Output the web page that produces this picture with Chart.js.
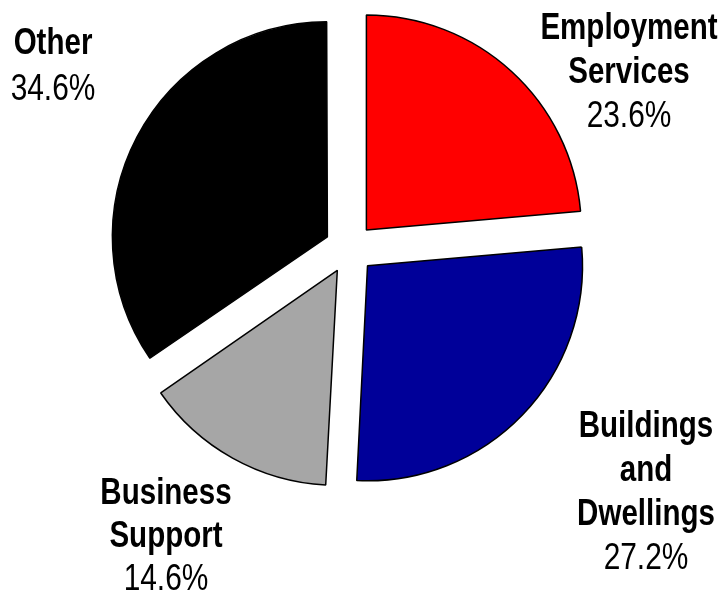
<!DOCTYPE html>
<html>
<head>
<meta charset="utf-8">
<script src="https://cdn.jsdelivr.net/npm/chart.js@4/dist/chart.umd.min.js"></script>
<style>
  html, body { margin: 0; padding: 0; background: #ffffff; }
  #wrap { width: 727px; height: 594px; position: relative; }
</style>
</head>
<body>
<div id="wrap"><canvas id="c" width="727" height="594"></canvas></div>
<script>
// ---- data ----
const categories = ["Employment Services", "Buildings and Dwellings", "Business Support", "Other"];
const categoryLines = [["Employment", "Services"], ["Buildings", "and", "Dwellings"], ["Business", "Support"], ["Other"]];
const shares = [23.6, 27.2, 14.6, 34.6];
const sliceColors = ["#FF0000", "#000099", "#A6A6A6", "#000000"];

// label placement (centre x, first baseline y, line height)
const labelAnchors = [
  { x: 629, y: 39, lh: 44 },
  { x: 646, y: 437, lh: 44 },
  { x: 166, y: 504, lh: 43 },
  { x: 53, y: 54, lh: 46 }
];

const FONT = '"Liberation Sans", Arial, sans-serif';
const OFFSET = 100;

// keep exploded slices at the same radius (Chart.js grows narrow slices when offset)
const radiusFix = {
  id: 'radiusFix',
  beforeDatasetsDraw(chart) {
    const meta = chart.getDatasetMeta(0);
    const R = meta.controller.outerRadius;
    meta.data.forEach(arc => {
      const off = (arc.options.offset || 0) / 4;
      const fix = 1 - Math.sin(Math.min(Math.PI, arc.circumference || 0));
      arc.outerRadius = R - off * fix;
    });
  }
};

function narrowText(ctx, text, x, y, sx) {
  ctx.save();
  ctx.translate(x, y);
  ctx.scale(sx, 1);
  ctx.fillText(text, 0, 0);
  ctx.restore();
}

const sliceLabels = {
  id: 'sliceLabels',
  afterDatasetsDraw(chart) {
    const ctx = chart.ctx;
    ctx.save();
    ctx.fillStyle = '#000';
    ctx.textAlign = 'center';
    ctx.textBaseline = 'alphabetic';
    chart.data.labels.forEach((lab, i) => {
      const a = labelAnchors[i];
      const lines = categoryLines[i];
      ctx.font = 'bold 36px ' + FONT;
      lines.forEach((t, k) => narrowText(ctx, t, a.x, a.y + k * a.lh, 0.82));
      ctx.font = '36px ' + FONT;
      narrowText(ctx, chart.data.datasets[0].data[i].toFixed(1) + '%', a.x, a.y + lines.length * a.lh, 0.83);
    });
    ctx.restore();
  }
};

new Chart(document.getElementById('c'), {
  type: 'pie',
  data: {
    labels: categories,
    datasets: [{
      data: shares,
      backgroundColor: sliceColors,
      borderColor: '#000000',
      borderWidth: 1.5,
      offset: OFFSET
    }]
  },
  options: {
    responsive: false,
    animation: false,
    radius: 215,
    layout: { padding: { left: 0, right: 28, top: 0, bottom: 97 } },
    plugins: {
      legend: { display: false },
      tooltip: { enabled: false }
    }
  },
  plugins: [radiusFix, sliceLabels]
});
</script>
</body>
</html>
